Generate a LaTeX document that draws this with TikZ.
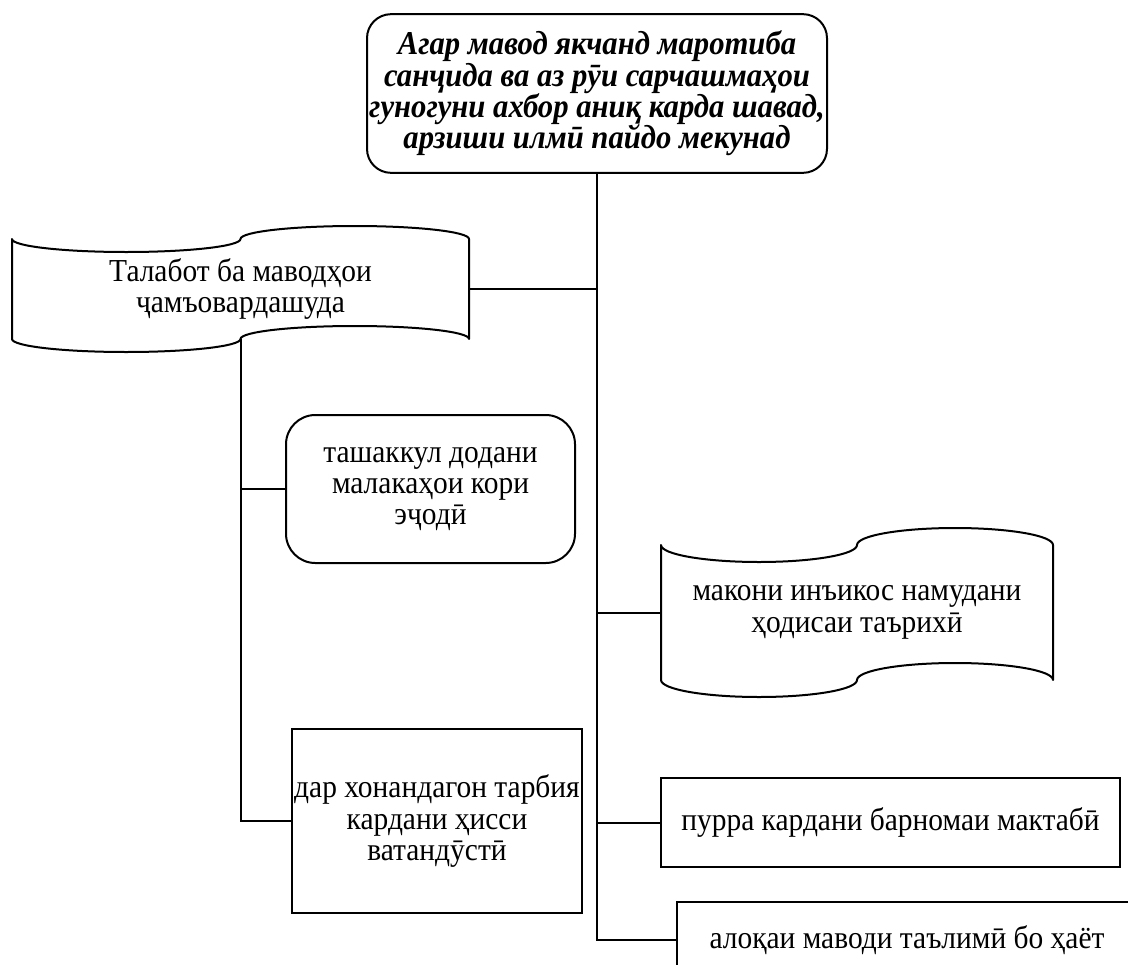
\documentclass[tikz,border=0pt]{standalone}
\usepackage{fontspec}
\setmainfont{Liberation Serif}[FakeStretch=0.92]

\begin{document}
\begin{tikzpicture}[x=0.75pt,y=0.75pt,yscale=-1,
  every node/.style={font=\fontsize{24}{23.5}\selectfont, align=center, inner sep=0pt},
  plainbox/.style={draw, line width=1.5pt},
  roundbox/.style={draw, line width=1.5pt, rounded corners=20pt},
  scrolltext/.style={},
  outline/.style={line width=1.5pt, line join=round},
  link/.style={line width=1.5pt}]
\useasboundingbox (0,0) rectangle (1128,964);

%Main box
\node [roundbox, minimum width=345pt, minimum height=119pt, rounded corners=18pt,
  font=\fontsize{25}{23.5}\selectfont\bfseries\itshape] (agar) at (597,93.5)
  {Агар мавод якчанд маротиба\\санҷида ва аз рӯи сарчашмаҳои\\гуногуни ахбор аниқ карда шавад,\\арзиши илмӣ пайдо мекунад};

%Scroll: Talabot
\draw [outline] (12,239) arc[start angle=180, end angle=0, x radius=114.25, y radius=13]
  arc[start angle=180, end angle=360, x radius=114.25, y radius=13] -- (469,339)
  arc[start angle=0, end angle=-180, x radius=114.25, y radius=13]
  arc[start angle=0, end angle=180, x radius=114.25, y radius=13] -- cycle;
\node [scrolltext, minimum width=342.75pt, minimum height=75pt] (talabot) at (240.5,289)
  {Талабот ба маводҳои\\ҷамъовардашуда};

%Scroll: Makoni
\draw [outline] (661,545) arc[start angle=180, end angle=0, x radius=98, y radius=17]
  arc[start angle=180, end angle=360, x radius=98, y radius=17] -- (1053,680)
  arc[start angle=0, end angle=-180, x radius=98, y radius=17]
  arc[start angle=0, end angle=180, x radius=98, y radius=17] -- cycle;
\node [scrolltext, minimum width=294pt, minimum height=101.25pt] (makoni) at (857,612.5)
  {макони инъикос намудани\\ҳодисаи таърихӣ};

%Boxes on the left branch
\node [roundbox, minimum width=216.75pt, minimum height=111pt, rounded corners=22pt] (tashakkul) at (430.5,489)
  {ташаккул додани\\малакаҳои кори\\эҷодӣ};
\node [plainbox, minimum width=217.5pt, minimum height=138pt] (dar) at (437,821)
  {дар хонандагон тарбия\\кардани ҳисси\\ватандӯстӣ};

%Boxes on the right
\node [plainbox, minimum width=344.25pt, minimum height=66.75pt] (purra) at (890.5,822.5)
  {пурра кардани барномаи мактабӣ};
\node [plainbox, minimum width=345pt, minimum height=57pt] (aloqa) at (907,940)
  {алоқаи маводи таълимӣ бо ҳаёт};

%Connectors
\draw [link] (agar.south) |- (aloqa.west);
\draw [link] (talabot.east) -- (talabot.east -| agar.south);
\draw [link] (makoni.west) -- (makoni.west -| agar.south);
\draw [link] (purra.west) -- (purra.west -| agar.south);
\draw [link] (talabot.south) |- (dar.west);
\draw [link] (tashakkul.west -| talabot.south) -- (tashakkul.west);

\end{tikzpicture}
\end{document}
